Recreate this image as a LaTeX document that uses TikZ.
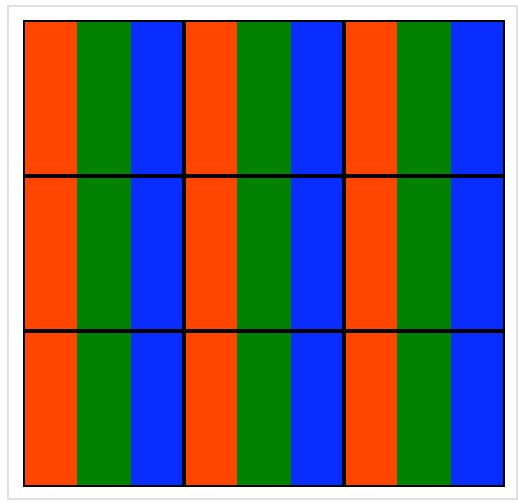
\documentclass[tikz,border=0pt]{standalone}
\usepackage{tikz}
\usepackage{xcolor}

\definecolor{subred}{RGB}{255,69,0}
\definecolor{subgreen}{RGB}{0,130,0}
\definecolor{subblue}{RGB}{10,45,255}
\definecolor{framegray}{RGB}{225,225,225}

\begin{document}
\begin{tikzpicture}[
    x=0.02cm, y=-0.02cm,
    frame/.style={draw=framegray, line width=0.03cm},
    grid/.style={draw=black, line width=0.065cm}
  ]
    \useasboundingbox (0,0) rectangle (518,503);
    \draw[frame] (8,6) rectangle (517,499);
    % subpixel stripes
    \foreach \col in {0,1,2} {
      \foreach \row in {0,1,2} {
        \fill[subred]   ({24+160*\col},{21+155*\row}) rectangle ++(53.33,155);
        \fill[subgreen] ({77.33+160*\col},{21+155*\row}) rectangle ++(53.33,155);
        \fill[subblue]  ({130.67+160*\col},{21+155*\row}) rectangle ++(53.33,155);
      }
    }
    % pixel borders
    \draw[grid, line width=0.04cm] (24,21) rectangle (504,486);
    \foreach \x in {184,344} \draw[grid] (\x,21) -- (\x,486);
    \foreach \y in {176,331} \draw[grid] (24,\y) -- (504,\y);
  \end{tikzpicture}
\end{document}
